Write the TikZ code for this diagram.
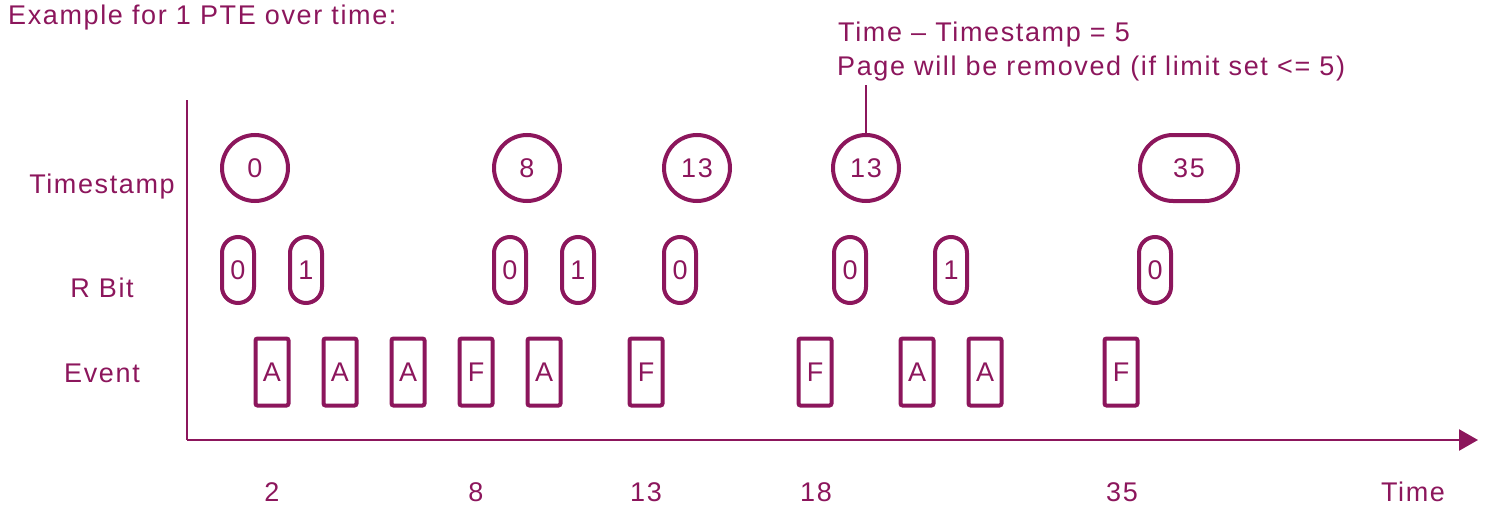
\documentclass[tikz,border=0pt]{standalone}
\usepackage{fontspec}
\setmainfont{Liberation Sans}[LetterSpace=6]
\usetikzlibrary{arrows.meta}
\definecolor{prim}{RGB}{140,22,92}
\tikzset{
  txt/.style={inner sep=0pt, text=prim, font=\fontsize{27}{32}\selectfont},
  tscirc/.style={draw=prim, line width=4pt, circle, minimum size=66pt, inner sep=0pt, text=prim, font=\fontsize{27}{32}\selectfont},
  tsoval/.style={draw=prim, line width=4pt, rectangle, rounded corners=33pt, minimum width=98pt, minimum height=66pt, inner sep=0pt, text=prim, font=\fontsize{27}{32}\selectfont},
  rpill/.style={draw=prim, line width=4pt, rectangle, rounded corners=16pt, minimum width=32pt, minimum height=66pt, inner sep=0pt, text=prim, font=\fontsize{27}{32}\selectfont},
  evbox/.style={draw=prim, line width=4pt, rectangle, rounded corners=2pt, minimum width=33pt, minimum height=67pt, inner sep=0pt, text=prim, font=\fontsize{27}{32}\selectfont},
  axisline/.style={draw=prim, line width=2.5pt},
}
\begin{document}
\begin{tikzpicture}[x=1pt,y=-1pt]
\useasboundingbox (0,0) rectangle (1491,519);
% title
\node[txt, anchor=base west] (title) at (8,25) {Example for 1 PTE over time:};
% annotation
\node[txt, anchor=base west] (ann1) at (838,42) {Time -- Timestamp = 5};
\node[txt, anchor=base west] (ann2) at (837,76) {Page will be removed (if limit set <= 5)};
% row labels
\node[txt, anchor=base] (lts) at (102,193) {Timestamp};
\node[txt, anchor=base] (lrb) at (102,297) {R Bit};
\node[txt, anchor=base] (lev) at (102,382) {Event};
% axes
\coordinate (origin) at (187,440);
\coordinate (ytop) at (187,100);
\coordinate (xend) at (1478,440);
\draw[axisline] (ytop) -- (origin);
\draw[axisline, -{Triangle[length=19pt,width=21pt]}] (origin) -- (xend);
% timestamps
\node[tscirc] (c1) at (255,168) {0};
\node[tscirc] (c2) at (527,168) {8};
\node[tscirc] (c3) at (697,168) {13};
\node[tscirc] (c4) at (866,168) {13};
\node[tsoval] (c5) at (1189,168) {35};
\draw[draw=prim, line width=2.5pt, shorten >=3pt] (c4.north) -- (c4.north |- ann2.south);
% R bits
\node[rpill] (r1) at (238,270) {0};
\node[rpill] (r2) at (306,270) {1};
\node[rpill] (r3) at (510,270) {0};
\node[rpill] (r4) at (578,270) {1};
\node[rpill] (r5) at (680,270) {0};
\node[rpill] (r6) at (850,270) {0};
\node[rpill] (r7) at (951,270) {1};
\node[rpill] (r8) at (1155,270) {0};
% events
\node[evbox] (e1) at (272,372) {A};
\node[evbox] (e2) at (340,372) {A};
\node[evbox] (e3) at (408,372) {A};
\node[evbox] (e4) at (476,372) {F};
\node[evbox] (e5) at (544,372) {A};
\node[evbox] (e6) at (646,372) {F};
\node[evbox] (e7) at (815,372) {F};
\node[evbox] (e8) at (917,372) {A};
\node[evbox] (e9) at (985,372) {A};
\node[evbox] (e10) at (1121,372) {F};
% time labels
\node[txt, anchor=base] (t1) at (272,501) {2};
\node[txt, anchor=base] (t2) at (476,501) {8};
\node[txt, anchor=base] (t3) at (646,501) {13};
\node[txt, anchor=base] (t4) at (816,501) {18};
\node[txt, anchor=base] (t5) at (1122,501) {35};
\node[txt, anchor=base] (t6) at (1413,501) {Time};
\end{tikzpicture}
\end{document}
